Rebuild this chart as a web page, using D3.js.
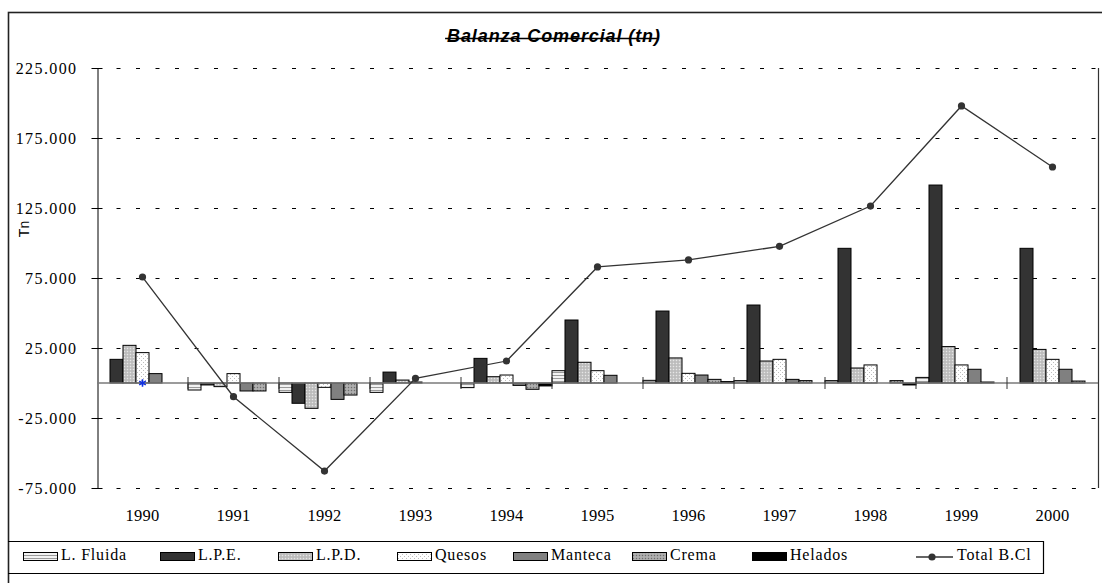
<!DOCTYPE html>
<html>
<head>
<meta charset="utf-8">
<script src="https://cdn.jsdelivr.net/npm/d3@7"></script>
<style>
  html, body { margin: 0; padding: 0; background: #fff; }
  svg { display: block; }
</style>
</head>
<body>
<svg id="chart" width="1102" height="583"></svg>
<script>
// ---------- data ----------
const years = ["1990","1991","1992","1993","1994","1995","1996","1997","1998","1999","2000"];
const seriesNames = ["L. Fluida","L.P.E.","L.P.D.","Quesos","Manteca","Crema","Helados"];
const lFluida = [0, -5000, -6700, -6700, -3300, 8800, 1900, 1700, 1700, 4000, 0];
const lpe     = [16900, -1400, -14500, 7800, 17600, 45000, 51400, 55700, 96200, 141400, 96200];
const lpd     = [26900, -2600, -18100, 2100, 4500, 14800, 17900, 15700, 10700, 26000, 24000];
const quesos  = [21700, 6700, -3100, 700, 5700, 8800, 6900, 16900, 12900, 12900, 16900];
const manteca = [6700, -5700, -11700, 0, -1700, 5500, 5700, 2600, 0, 9800, 9800];
const crema   = [0, -5700, -8600, 0, -4500, 0, 2600, 1700, 1700, 700, 1400];
const helados = [0, 0, 0, 0, -2100, 0, 1000, 0, -1400, 0, 0];
const totalBCl = [75700, -9800, -62900, 3300, 15700, 82900, 87900, 97600, 126400, 197900, 154300];
const yTicks = [225000, 175000, 125000, 75000, 25000, -25000, -75000];
const titleText = "Balanza Comercial (tn)";
const yTitle = "Tn";
const lineName = "Total B.Cl";

const seriesValues = [lFluida, lpe, lpd, quesos, manteca, crema, helados];
const fills = ["url(#pFluida)", "#333333", "url(#pLPD)", "url(#pQuesos)", "#808080", "url(#pCrema)", "#000000"];

// ---------- setup ----------
const svg = d3.select("#chart");
const serif = "'Liberation Serif', 'Times New Roman', serif";
const sans = "'Liberation Sans', Arial, sans-serif";

const defs = svg.append("defs");
// L. Fluida: horizontal stripes
let p = defs.append("pattern").attr("id","pFluida").attr("patternUnits","userSpaceOnUse").attr("width",4).attr("height",3);
p.append("rect").attr("width",4).attr("height",3).attr("fill","#f2f2f2");
p.append("rect").attr("width",4).attr("height",1).attr("fill","#9a9a9a");
// L.P.D.: light grey stipple
p = defs.append("pattern").attr("id","pLPD").attr("patternUnits","userSpaceOnUse").attr("width",3).attr("height",3);
p.append("rect").attr("width",3).attr("height",3).attr("fill","#c4c4c4");
p.append("rect").attr("x",0).attr("y",0).attr("width",1).attr("height",1).attr("fill","#e6e6e6");
p.append("rect").attr("x",1.5).attr("y",1.5).attr("width",1).attr("height",1).attr("fill","#a6a6a6");
// Quesos: white with sparse dots
p = defs.append("pattern").attr("id","pQuesos").attr("patternUnits","userSpaceOnUse").attr("width",4).attr("height",4);
p.append("rect").attr("width",4).attr("height",4).attr("fill","#ffffff");
p.append("rect").attr("x",0).attr("y",0).attr("width",1).attr("height",1).attr("fill","#bdbdbd");
p.append("rect").attr("x",2).attr("y",2).attr("width",1).attr("height",1).attr("fill","#bdbdbd");
// Crema: darker stipple
p = defs.append("pattern").attr("id","pCrema").attr("patternUnits","userSpaceOnUse").attr("width",3).attr("height",3);
p.append("rect").attr("width",3).attr("height",3).attr("fill","#a4a4a4");
p.append("rect").attr("x",0).attr("y",0).attr("width",1).attr("height",1).attr("fill","#6e6e6e");
p.append("rect").attr("x",1.5).attr("y",1.5).attr("width",1).attr("height",1).attr("fill","#d0d0d0");

// outer frame
svg.append("rect").attr("x",8.5).attr("y",12.5).attr("width",1200).attr("height",700)
  .attr("fill","none").attr("stroke","#222").attr("stroke-width",1.6);

// scales
const plotL = 97, plotR = 1098, plotT = 68, plotB = 488;
const x = d3.scaleBand().domain(years).range([plotL, plotR]).paddingInner(0).paddingOuter(0);
const xs = d3.scaleBand().domain(seriesNames).range([0, x.bandwidth()]).padding(0);
const y = d3.scaleLinear().domain([-75000, 225000]).range([plotB, plotT]);

const loc = d3.formatLocale({decimal: ",", thousands: ".", grouping: [3], currency: ["$",""], minus: "-"});
const fmt = loc.format(",d");

// gridlines (dashed)
svg.append("g").selectAll("line").data(yTicks).join("line")
  .attr("x1", plotL).attr("x2", plotR)
  .attr("y1", d => Math.round(y(d)) + 0.5).attr("y2", d => Math.round(y(d)) + 0.5)
  .attr("stroke", "#000").attr("stroke-width", 1).attr("stroke-dasharray", "4,15.5");

// right border of plot
svg.append("line").attr("x1", plotR + 0.5).attr("x2", plotR + 0.5).attr("y1", plotT).attr("y2", plotB)
  .attr("stroke", "#333").attr("stroke-width", 1.2);

// y axis
const yAxis = d3.axisLeft(y).tickValues(yTicks).tickFormat(fmt).tickSizeInner(6).tickSizeOuter(0).tickPadding(14);
const gy = svg.append("g").attr("transform", `translate(${plotL + 0.5},0)`).call(yAxis);
gy.select(".domain").attr("stroke", "#000");
gy.selectAll(".tick line").attr("x2", -6).attr("x1", 5).attr("stroke", "#000");
gy.selectAll(".tick text").attr("font-family", serif).attr("font-size", 16)
  .attr("letter-spacing", 1.4).attr("fill", "#000");
gy.attr("font-size", null).attr("font-family", null);

// y title
svg.append("text").attr("transform", "translate(29,229) rotate(-90)")
  .attr("text-anchor", "middle").attr("font-family", sans).attr("font-size", 14).attr("fill", "#000")
  .text(yTitle);

// bars
const gBars = svg.append("g");
years.forEach((yr, i) => {
  const g = gBars.append("g").attr("transform", `translate(${x(yr)},0)`);
  g.selectAll("rect").data(seriesNames.map((s, k) => ({s, v: seriesValues[k][i], k})))
    .join("rect")
    .filter(d => d.v !== 0)
    .attr("x", d => xs(d.s))
    .attr("width", xs.bandwidth())
    .attr("y", d => y(Math.max(0, d.v)))
    .attr("height", d => Math.abs(y(d.v) - y(0)))
    .attr("fill", d => fills[d.k])
    .attr("stroke", "#000").attr("stroke-width", 1);
});

// zero line
svg.append("line").attr("x1", plotL).attr("x2", plotR).attr("y1", y(0)).attr("y2", y(0))
  .attr("stroke", "#7a7a7a").attr("stroke-width", 1.5);
// category tick marks at band boundaries on the zero line
svg.append("g").selectAll("line").data(years.slice(1)).join("line")
  .attr("x1", d => x(d)).attr("x2", d => x(d))
  .attr("y1", y(0) - 6).attr("y2", y(0) + 6)
  .attr("stroke", "#333").attr("stroke-width", 1);

// category labels
svg.append("g").selectAll("text").data(years).join("text")
  .attr("x", d => x(d) + x.bandwidth() / 2).attr("y", 521)
  .attr("text-anchor", "middle").attr("font-family", serif).attr("font-size", 16.5)
  .attr("letter-spacing", 0.3).attr("fill", "#000").text(d => d);

// total line
const line = d3.line().x((d, i) => x(years[i]) + x.bandwidth() / 2).y(d => y(d));
svg.append("path").datum(totalBCl).attr("d", line)
  .attr("fill", "none").attr("stroke", "#333").attr("stroke-width", 1.3);
svg.append("g").selectAll("circle").data(totalBCl).join("circle")
  .attr("cx", (d, i) => x(years[i]) + x.bandwidth() / 2).attr("cy", d => y(d))
  .attr("r", 3.6).attr("fill", "#333");

// small stray marker at 1990 baseline
const star = d3.symbol().type(d3.symbolAsterisk || d3.symbolCross).size(40);
svg.append("path").attr("d", star())
  .attr("transform", `translate(${x(years[0]) + x.bandwidth() / 2},${y(0)})`)
  .attr("fill", "none").attr("stroke", "#1030e0").attr("stroke-width", 1.6);

// title
const title = svg.append("text").attr("x", 554).attr("y", 42)
  .attr("text-anchor", "middle").attr("font-family", sans).attr("font-size", 18)
  .attr("font-weight", "bold").attr("font-style", "italic").attr("letter-spacing", 0.9)
  .attr("fill", "#000").text(titleText);
const tb = title.node().getBBox();
svg.append("line").attr("x1", tb.x - 2).attr("x2", tb.x + tb.width - 4)
  .attr("y1", 38.5).attr("y2", 38.5).attr("stroke", "#000").attr("stroke-width", 1.6);

// legend
const legL = 8, legR = 1043, legT = 541, legB = 573;
svg.append("path")
  .attr("d", `M${legL},${legT + 0.5}H${legR + 0.5}V${legB + 0.5}H${legL}`)
  .attr("fill", "none").attr("stroke", "#000").attr("stroke-width", 1.2);
const legX = [23, 160, 278, 397, 513, 632, 752];
const gl = svg.append("g");
seriesNames.forEach((s, k) => {
  gl.append("rect").attr("x", legX[k] + 0.5).attr("y", 552.5).attr("width", 34).attr("height", 8)
    .attr("fill", fills[k]).attr("stroke", "#000").attr("stroke-width", 1);
  gl.append("text").attr("x", legX[k] + 38).attr("y", 560)
    .attr("font-family", serif).attr("font-size", 16).attr("letter-spacing", 0.8)
    .attr("fill", "#000").text(s);
});
gl.append("line").attr("x1", 916).attr("x2", 953).attr("y1", 557).attr("y2", 557)
  .attr("stroke", "#333").attr("stroke-width", 1.3);
gl.append("circle").attr("cx", 932).attr("cy", 557).attr("r", 3.6).attr("fill", "#333");
gl.append("text").attr("x", 957).attr("y", 560)
  .attr("font-family", serif).attr("font-size", 16).attr("letter-spacing", 0.8)
  .attr("fill", "#000").text(lineName);
</script>
</body>
</html>
